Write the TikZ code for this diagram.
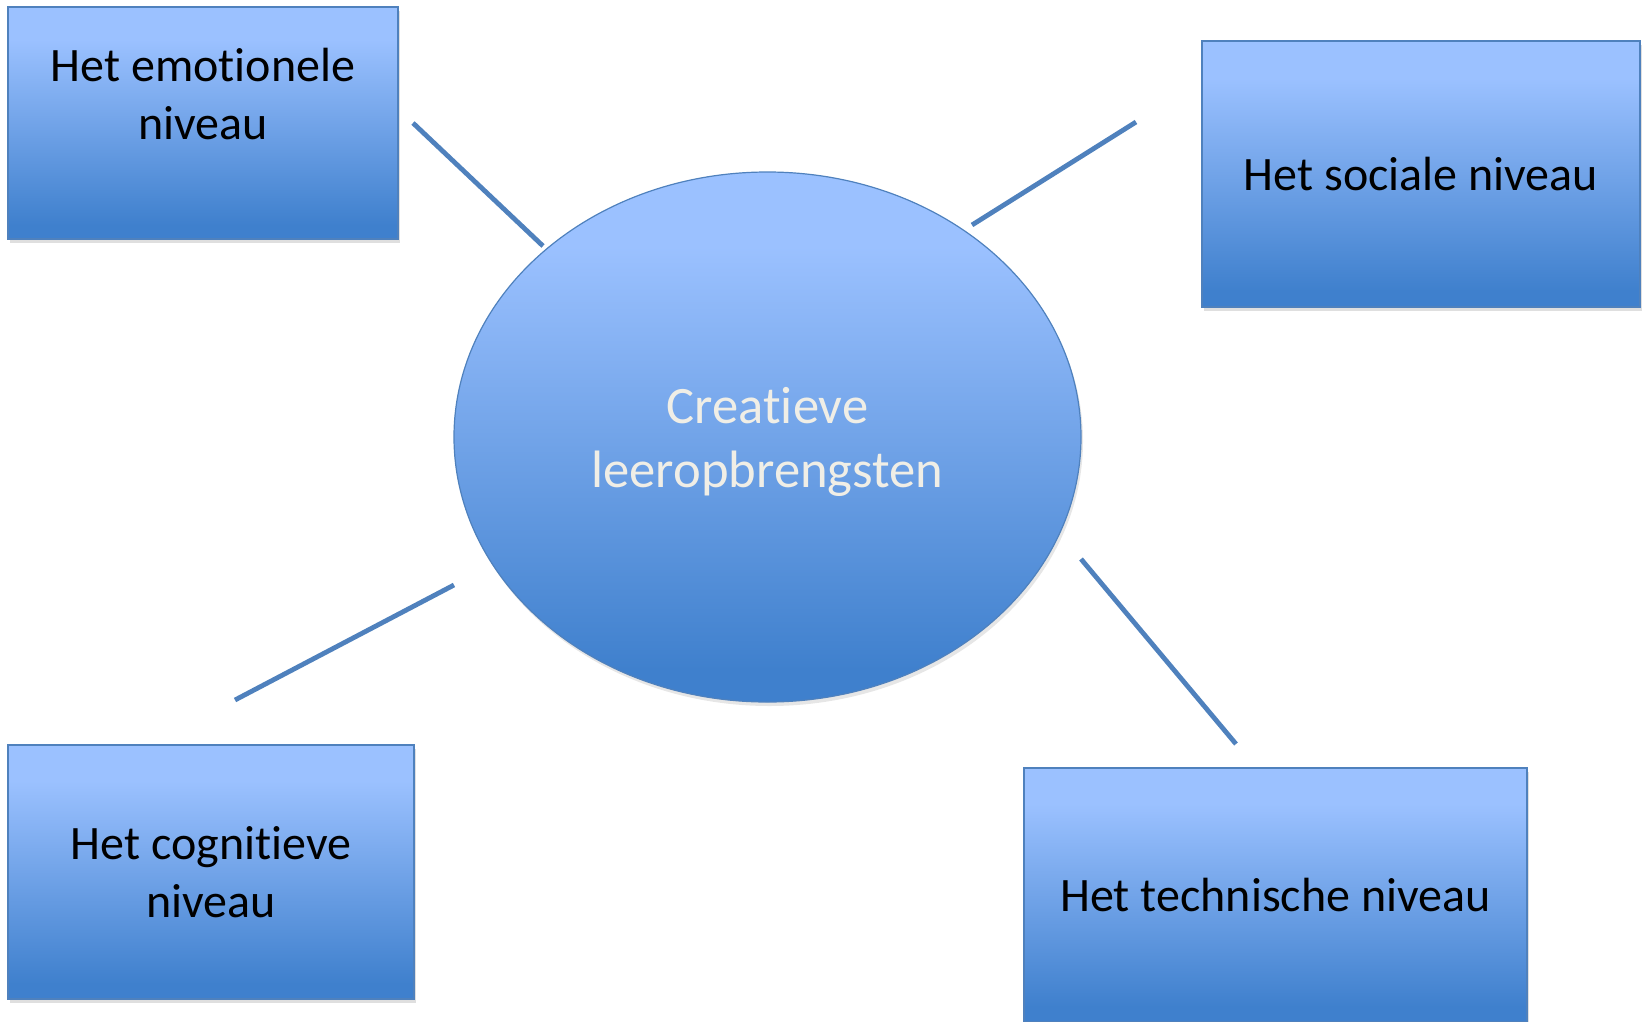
\documentclass[tikz,border=0pt]{standalone}
\usepackage{fontspec}
\setmainfont{Carlito}[Ligatures=NoCommon]
\usetikzlibrary{shapes.geometric,shadows}
\definecolor{lightb}{RGB}{155,193,255}
\definecolor{darkb}{RGB}{63,128,205}
\definecolor{rimb}{RGB}{79,129,189}
\definecolor{creamtxt}{RGB}{240,238,230}
\pgfdeclareverticalshading{officeblue}{100bp}{color(0bp)=(darkb); color(28bp)=(darkb); color(68bp)=(lightb); color(100bp)=(lightb)}
\begin{document}
\begin{tikzpicture}[x=1pt,y=-1pt,
  niveau/.style={rectangle, draw=rimb, line width=1.5pt, shading=officeblue,
    align=center, inner sep=0pt, font=\fontsize{48}{58.5}\selectfont,
    drop shadow={shadow xshift=2pt, shadow yshift=-4pt, opacity=0.25}},
  kern/.style={ellipse, draw=rimb, line width=1.2pt, shading=officeblue,
    align=center, inner sep=0pt, text=creamtxt, font=\fontsize{52.6}{64}\selectfont,
    drop shadow={shadow xshift=2pt, shadow yshift=-4pt, opacity=0.2}},
  spaak/.style={draw=rimb, line width=4.8pt}]
\useasboundingbox (0,0) rectangle (1647,1021);
% boxes
\node [niveau, minimum width=390pt, minimum height=232pt] (emo) at (203,123) {Het emotionele\\niveau\\\mbox{}};
\node [niveau, minimum width=438pt, minimum height=266pt] (soc) at (1421,174) {Het sociale niveau};
\node [niveau, minimum width=406pt, minimum height=254pt] (cog) at (211,872) {Het cognitieve\\niveau};
\node [niveau, minimum width=503pt, minimum height=254pt] (tech) at (1275.5,895) {Het technische niveau};
% centre
\node [kern, minimum width=627pt, minimum height=530pt] (leer) at (767.5,437) {\rule{0pt}{47pt}Creatieve\\leeropbrengsten};
% spokes
\coordinate (emo-a) at (413,123);  \coordinate (emo-b) at (543,246);
\coordinate (soc-a) at (1136,122); \coordinate (soc-b) at (972,225);
\coordinate (cog-a) at (235,700);  \coordinate (cog-b) at (454,585);
\coordinate (tech-a) at (1236,744); \coordinate (tech-b) at (1081,559);
\draw [spaak] (emo-a) -- (emo-b);
\draw [spaak] (soc-a) -- (soc-b);
\draw [spaak] (cog-a) -- (cog-b);
\draw [spaak] (tech-a) -- (tech-b);
\end{tikzpicture}
\end{document}
